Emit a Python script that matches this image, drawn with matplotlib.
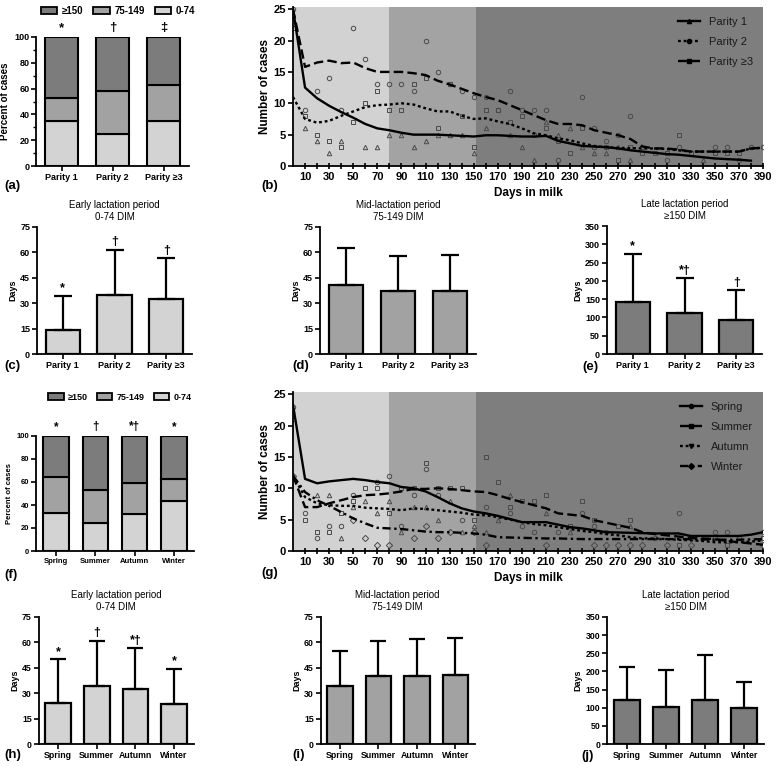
import numpy as np
import matplotlib
matplotlib.use('Agg')
import matplotlib.pyplot as plt
from matplotlib.patches import Patch
from matplotlib.lines import Line2D

plt.rcParams['font.family'] = ['Liberation Sans', 'DejaVu Sans']

nan = np.nan
W, H = 777, 766

parity = ['Parity 1', 'Parity 2', 'Parity \u22653']
seasons = ['Spring', 'Summer', 'Autumn', 'Winter']
dim_groups = ['\u2265150', '75-149', '0-74']

# (a) percent of cases by parity
par_pct_early = [35, 24.5, 34.5]
par_pct_mid = [18, 34, 28.5]
par_pct_late = [47, 41.5, 37]
par_pct_marks = ['*', '\u2020', '\u2021']

# (c)-(e) days by parity
par_early_mean = [14, 35, 32.5]
par_early_sd = [20.5, 26.5, 24]
par_early_marks = ['*', '\u2020', '\u2020']
par_mid_mean = [41, 37, 37.5]
par_mid_sd = [21.5, 21, 21]
par_late_mean = [141, 111, 93]
par_late_sd = [133, 96, 81]
par_late_marks = ['*', '*\u2020', '\u2020']

# (f) percent of cases by season
sea_pct_early = [33, 24, 32.5, 43.5]
sea_pct_mid = [31, 29, 26.5, 19.5]
sea_pct_late = [36, 47, 41, 37]
sea_pct_marks = ['*', '\u2020', '*\u2020', '*']

# (h)-(j) days by season
sea_early_mean = [24, 34, 32.5, 23.5]
sea_early_sd = [26, 27, 24, 21]
sea_early_marks = ['*', '\u2020', '*\u2020', '*']
sea_mid_mean = [34.5, 40, 40, 41]
sea_mid_sd = [20.5, 21, 22, 21.5]
sea_late_mean = [121, 102, 121, 99]
sea_late_sd = [92, 103, 125, 71]

# (b) and (g) number of cases by days in milk
days = np.arange(0, 400, 10)

p1_pts = [24, 6, 4, 2, 4, nan, 3, 3, 5, 5, 3, 4, 5, 5, 5, 2, 6, nan, 5, 3,
          1, 7, 5, 6, 3, 2, 2, 3, 1, nan, nan, nan, nan, nan, 1, nan, nan, nan, nan, nan]
p2_pts = [22, 8, 5, 4, 3, 7, 10, 12, 9, 9, 13, 14, 6, 13, 8, 3, 9, 9, 7, 8,
          5, 6, 4, 2, 6, 3, 3, 1, 3, 2, 2, 2, 5, 2, nan, 2, 2, 2, nan, nan]
p3_pts = [25, 9, 12, 14, 9, 22, 17, 13, 13, 13, 12, 20, 15, 13, 12, 11, 11, 9, 12, 9,
          9, 9, 1, nan, 11, 6, 4, 5, 8, 3, nan, 1, 3, nan, nan, 3, 3, 1, 3, 3]

p1_line = [25, 12.5, 10.8, 9.6, 8.6, 7.7, 6.7, 6.0, 5.7, 5.3, 5.0, 5.0, 5.0, 4.9, 4.8, 4.7,
           4.9, 4.9, 4.8, 4.7, 4.7, 4.8, 4.0, 3.6, 3.2, 3.1, 3.0, 2.8, 2.5, 2.3, 2.1, 1.9,
           1.8, 1.6, 1.4, 1.2, 1.1, 1.0, 0.85, nan]
p2_line = [11, 7.5, 6.9, 7.2, 8.0, 8.7, 9.4, 9.7, 9.8, 10.0, 9.8, 9.2, 8.7, 8.7, 8.0, 7.5,
           7.6, 7.1, 6.7, 6.0, 5.2, 4.9, 4.4, 4.1, 3.6, 3.2, 3.0, 2.9, 2.85, 2.8, 2.8, 2.7,
           2.5, 2.3, 2.3, 2.3, 2.3, 2.3, 2.8, 2.9]
p3_line = [25, 15.8, 16.5, 16.8, 16.4, 16.5, 15.6, 15.0, 15.0, 15.0, 14.8, 14.5, 13.6, 13.0,
           12.3, 11.6, 11.0, 10.5, 9.7, 8.9, 8.1, 7.3, 6.7, 6.7, 6.5, 5.7, 5.3, 4.9, 4.3,
           3.1, 2.8, 2.8, 2.6, 2.3, 2.3, 2.3, 2.3, 2.3, 2.8, 2.9]

spring_pts = [23, 6, 2, 4, 4, 9, nan, 11, 12, 4, 9, 13, 9, nan, 5, 3, 7, nan, 6, 4,
              3, nan, 3, nan, 6, 4, 3, nan, nan, nan, 2, nan, 6, 2, nan, 3, 3, 2, nan, 3]
summer_pts = [21, 5, 3, 3, 6, 8, 10, 10, 6, 10, 10, 14, 10, 10, 10, 5, 15, 11, 7, 8,
              8, 9, nan, 4, 8, 5, nan, 4, 5, nan, nan, nan, 1, nan, nan, 2, 1, nan, nan, 2]
autumn_pts = [12, nan, 9, 9, 2, 7, 8, 6, 8, 3, 7, 7, 5, 8, 3, 4, 3, 5, 9, nan,
              nan, 6, nan, 3, nan, nan, nan, nan, 4, nan, nan, nan, nan, nan, nan, nan, nan, nan, nan, nan]
winter_pts = [12, nan, nan, nan, nan, 5, 2, 1, 1, nan, 2, 4, 2, 3, nan, 3, 1, nan, nan, nan,
              nan, 1, nan, nan, nan, 1, 1, 1, 1, 1, nan, 1, nan, 1, nan, nan, nan, nan, nan, 1]

spring_line = [23.3, 11.5, 10.8, 11.1, 11.3, 11.5, 11.3, 11.0, 10.8, 10.2, 10.0, 9.5, 8.6,
               7.6, 6.8, 6.3, 6.0, 5.6, 5.1, 4.6, 4.6, 4.6, 4.2, 3.8, 3.6, 3.3, 3.0, 2.95,
               2.9, 2.85, 2.8, 2.8, 2.8, 2.4, 2.4, 2.4, 2.4, 2.4, 2.6, 3.0]
summer_line = [12, 7.0, 7.0, 7.6, 8.1, 8.6, 8.9, 9.0, 9.2, 9.5, 9.9, 9.9, 10.0, 9.9, 9.7,
               9.5, 9.4, 8.9, 8.3, 7.8, 7.3, 6.8, 6.0, 5.8, 5.6, 4.9, 4.5, 4.1, 3.7, 3.0,
               2.7, 2.5, 2.3, 2.1, 2.0, 1.9, 1.6, 1.4, 1.2, 1.0]
autumn_line = [12, 8.6, 7.6, 7.3, 7.2, 7.2, 6.9, 6.8, 6.7, 6.5, 6.8, 6.7, 6.5, 6.3, 6.1,
               5.8, 5.7, 5.4, 5.0, 4.6, 4.3, 4.1, 3.8, 3.5, 3.2, 3.0, 2.7, 2.5, 2.2, 2.0,
               2.0, 1.9, 1.8, 1.7, 1.6, 1.4, 1.4, 1.4, 1.5, 1.7]
winter_line = [12, 9.4, 8.1, 7.2, 6.2, 5.2, 4.4, 3.7, 3.6, 3.5, 3.3, 3.1, 3.0, 3.0, 2.9,
               2.8, 2.6, 2.2, 2.15, 2.1, 2.05, 2.0, 2.0, 1.95, 1.9, 1.9, 1.9, 1.9, 1.9, 1.9,
               1.9, 1.9, 1.9, 1.9, 1.85, 1.8, 1.8, 1.8, 1.85, 1.9]

c_light, c_mid, c_dark = '#d3d3d3', '#a2a2a2', '#7c7c7c'


def box(l, t, r, b):
    return [l / W, 1 - b / H, (r - l) / W, (b - t) / H]


def style(ax, fs):
    for s in ['top', 'right']:
        ax.spines[s].set_visible(False)
    for s in ['left', 'bottom']:
        ax.spines[s].set_linewidth(1.3)
    ax.tick_params(width=1.2, length=3.5, labelsize=fs, pad=1.5)
    for lab in ax.get_xticklabels() + ax.get_yticklabels():
        lab.set_fontweight('bold')


def stacked(ax, cats, early, mid, late, marks, fs, lfs, yfs, legend_xy):
    x = np.arange(len(cats))
    ax.bar(x, early, 0.65, color=c_light, edgecolor='black', lw=1.5)
    ax.bar(x, mid, 0.65, bottom=early, color=c_mid, edgecolor='black', lw=1.5)
    ax.bar(x, late, 0.65, bottom=np.add(early, mid), color=c_dark, edgecolor='black', lw=1.5)
    for i, m in enumerate(marks):
        ax.annotate(m, (i, 100), xytext=(0, 2), textcoords='offset points',
                    ha='center', va='bottom', fontsize=fs + 3, fontweight='bold')
    ax.set_xlim(-0.5, len(cats) - 0.5)
    ax.set_ylim(0, 100)
    ax.set_yticks(range(0, 101, 20))
    ax.set_xticks(x)
    ax.set_xticklabels(cats)
    ax.set_ylabel('Percent of cases', fontsize=yfs, fontweight='bold', labelpad=3)
    style(ax, fs)
    handles = [Patch(facecolor=c, edgecolor='black', lw=1.3) for c in [c_dark, c_mid, c_light]]
    leg = ax.legend(handles, dim_groups, loc='center', bbox_to_anchor=legend_xy,
                    bbox_transform=fig.transFigure, ncol=3, frameon=False,
                    fontsize=lfs, handlelength=1.7, handleheight=0.7,
                    columnspacing=1.0, handletextpad=0.5)
    for t in leg.get_texts():
        t.set_fontweight('bold')


def days_bars(ax, cats, mean, sd, color, ymax, step, title, marks, fs, cap):
    x = np.arange(len(cats))
    ax.bar(x, mean, 0.66, color=color, edgecolor='black', lw=1.6, zorder=2)
    ax.errorbar(x, mean, yerr=[np.zeros(len(x)), sd], fmt='none', ecolor='black',
                elinewidth=1.6, capsize=cap, capthick=1.6, zorder=3)
    if marks:
        for i, m in enumerate(marks):
            ax.annotate(m, (i, mean[i] + sd[i]), xytext=(0, 1), textcoords='offset points',
                        ha='center', va='bottom', fontsize=9, fontweight='bold')
    ax.set_xlim(-0.5, len(cats) - 0.5)
    ax.set_ylim(0, ymax)
    ax.set_yticks(np.arange(0, ymax + 1, step))
    ax.set_xticks(x)
    ax.set_xticklabels(cats)
    ax.set_ylabel('Days', fontsize=6.5, fontweight='bold', labelpad=2)
    ax.set_title(title, fontsize=7, pad=5, linespacing=1.2)
    style(ax, fs)


def dim_plot(ax, series, pts, legend_labels, legend_markers):
    ax.axvspan(0, 80, color='#d2d2d2', lw=0, zorder=0)
    ax.axvspan(80, 152, color='#a3a3a3', lw=0, zorder=0)
    ax.axvspan(152, 390, color='#7e7e7e', lw=0, zorder=0)
    for vals, mk in pts:
        ax.plot(days, vals, ls='none', marker=mk, ms=3.2, mfc='none', mec='#4a4a4a',
                mew=0.7, zorder=2)
    handles = []
    for (vals, ls), mk in zip(series, legend_markers):
        ax.plot(days, vals, color='black', ls=ls, lw=1.7, zorder=3)
        handles.append(Line2D([], [], color='black', ls=ls, lw=1.7, marker=mk, ms=3))
    ax.set_xlim(0, 390)
    ax.set_ylim(0, 25.4)
    ax.set_yticks(range(0, 26, 5))
    ax.set_xticks(range(10, 391, 20))
    ax.set_xticks(range(20, 391, 20), minor=True)
    ax.tick_params(axis='x', which='both', direction='inout', length=5, width=1.2)
    ax.set_xlabel('Days in milk', fontsize=8.5, fontweight='bold', labelpad=4)
    ax.set_ylabel('Number of cases', fontsize=8.5, fontweight='bold', labelpad=2)
    style(ax, 8)
    ax.tick_params(axis='x', which='major', length=5)
    ax.legend(handles, legend_labels, loc='upper right', bbox_to_anchor=(1.0, 1.0),
              frameon=False, fontsize=8, handlelength=2.0, labelspacing=0.9,
              labelcolor='#1a1a1a')


fig = plt.figure(figsize=(W / 100, H / 100), dpi=100)

ax_a = fig.add_axes(box(36.3, 37, 189, 166))
stacked(ax_a, parity, par_pct_early, par_pct_mid, par_pct_late, par_pct_marks,
        6.5, 7, 7, (118 / W, 1 - 11 / H))
ax_a.set_yticks(range(10, 100, 20), minor=True)
ax_a.tick_params(axis='y', which='minor', length=2, width=1)

ax_b = fig.add_axes(box(293, 6.7, 763, 166))
dim_plot(ax_b, [(p1_line, '-'), (p2_line, (0, (1.2, 1.2))), (p3_line, (0, (4, 1.8)))],
         [(p1_pts, '^'), (p2_pts, 's'), (p3_pts, 'o')],
         parity, ['^', 'o', 's'])

ax_c = fig.add_axes(box(37, 227, 192, 354))
days_bars(ax_c, parity, par_early_mean, par_early_sd, c_light, 75, 15,
          'Early lactation period\n0-74 DIM', par_early_marks, 6.5, 6.5)
ax_d = fig.add_axes(box(320, 227, 476, 354))
days_bars(ax_d, parity, par_mid_mean, par_mid_sd, c_mid, 75, 15,
          'Mid-lactation period\n75-149 DIM', None, 6.5, 6.5)
ax_e = fig.add_axes(box(607, 226, 762, 354))
days_bars(ax_e, parity, par_late_mean, par_late_sd, c_dark, 350, 50,
          'Late lactation period\n\u2265150 DIM', par_late_marks, 6.5, 6.5)

ax_f = fig.add_axes(box(36.4, 436, 193.6, 551))
stacked(ax_f, seasons, sea_pct_early, sea_pct_mid, sea_pct_late, sea_pct_marks,
        5.5, 6.5, 5.5, (120 / W, 1 - 397 / H))

ax_g = fig.add_axes(box(293, 391.7, 763, 551))
dim_plot(ax_g, [(spring_line, '-'), (summer_line, (0, (4, 1.8))),
                (autumn_line, (0, (1.2, 1.2))), (winter_line, (0, (3.5, 1.5, 1, 1.5)))],
         [(spring_pts, 'o'), (summer_pts, 's'), (autumn_pts, '^'), (winter_pts, 'D')],
         seasons, ['o', 's', 'v', 'D'])

ax_h = fig.add_axes(box(38.7, 617, 193.5, 744))
days_bars(ax_h, seasons, sea_early_mean, sea_early_sd, c_light, 75, 15,
          'Early lactation period\n0-74 DIM', sea_early_marks, 6.3, 5.5)
ax_i = fig.add_axes(box(320.7, 617, 474.7, 744))
days_bars(ax_i, seasons, sea_mid_mean, sea_mid_sd, c_mid, 75, 15,
          'Mid-lactation period\n75-149 DIM', None, 6.3, 5.5)
ax_j = fig.add_axes(box(607, 617, 764, 744))
days_bars(ax_j, seasons, sea_late_mean, sea_late_sd, c_dark, 350, 50,
          'Late lactation period\n\u2265150 DIM', None, 6.3, 5.5)

panel_labels = [('(a)', 4, 186), ('(b)', 261, 186), ('(c)', 4, 366), ('(d)', 292, 366),
                ('(e)', 582, 367), ('(f)', 4, 575), ('(g)', 261, 573), ('(h)', 4, 755),
                ('(i)', 292, 755), ('(j)', 581, 756)]
for lab, px, py in panel_labels:
    fig.text(px / W, 1 - py / H, lab, fontsize=9.5, fontweight='bold', va='center', ha='left')

plt.savefig('out.png', dpi=100)
